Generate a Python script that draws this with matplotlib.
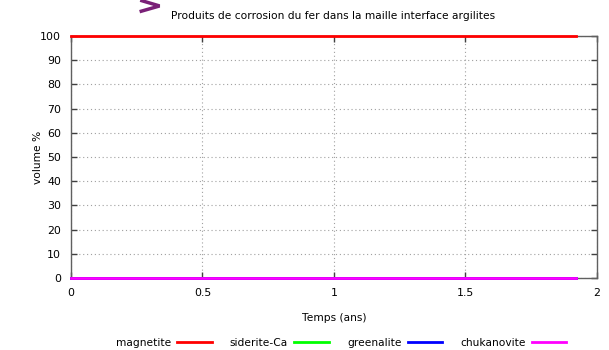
import matplotlib as mpl
import matplotlib.pyplot as plt
from matplotlib.lines import Line2D

mpl.rcParams['font.family'] = 'DejaVu Sans'
mpl.rcParams['font.size'] = 7.7

# data
temps = [0, 1.92]
series = ["magnetite", "siderite-Ca", "greenalite", "chukanovite"]
valeurs = {
    "magnetite": [100, 100],
    "siderite-Ca": [0, 0],
    "greenalite": [0, 0],
    "chukanovite": [0, 0],
}
couleurs = ["#ff0000", "#00ff00", "#0000ff", "#ff00ff"]
xticks = [0, 0.5, 1, 1.5, 2]
yticks = list(range(0, 101, 10))

fig = plt.figure(figsize=(6.09, 3.5), dpi=100)
ax = fig.add_axes([0.1166, 0.2057, 0.8634, 0.6913])

for nom, c in zip(series, couleurs):
    ax.plot(temps, valeurs[nom], color=c, lw=2, label=nom, clip_on=False, zorder=5)

ax.set_xlim(0, 2)
ax.set_ylim(0, 100)
ax.set_xticks(xticks)
ax.set_xticklabels(["0", "0.5", "1", "1.5", "2"])
ax.set_yticks(yticks)
ax.grid(True, linestyle=(0, (1, 2.5)), color="#a0a0a0", lw=0.8)
ax.tick_params(direction="in", length=4, width=1, color="#404040",
               top=True, right=True, labelsize=7.9, pad=7)
for s in ax.spines.values():
    s.set_color("#606060")
    s.set_linewidth(1)

ax.set_xlabel("Temps (ans)", fontsize=7.7, labelpad=11)
ax.set_ylabel("volume %", fontsize=7.7, labelpad=-2)
fig.text(0.547, 0.955, "Produits de corrosion du fer dans la maille interface argilites",
         ha="center", va="center", fontsize=7.7)

# chevron décoratif en haut à gauche
fig.lines.append(Line2D([0.233, 0.262, 0.232], [0.998, 0.983, 0.968],
                        transform=fig.transFigure, color="#7a2077", lw=2.5,
                        solid_joinstyle="miter"))

ax.legend(loc="center", bbox_to_anchor=(0.56, 0.02), bbox_transform=fig.transFigure,
          ncol=4, frameon=False, markerfirst=False, handlelength=3.2,
          handletextpad=0.6, columnspacing=1.7, fontsize=7.7)

plt.savefig("out.png", dpi=100)
